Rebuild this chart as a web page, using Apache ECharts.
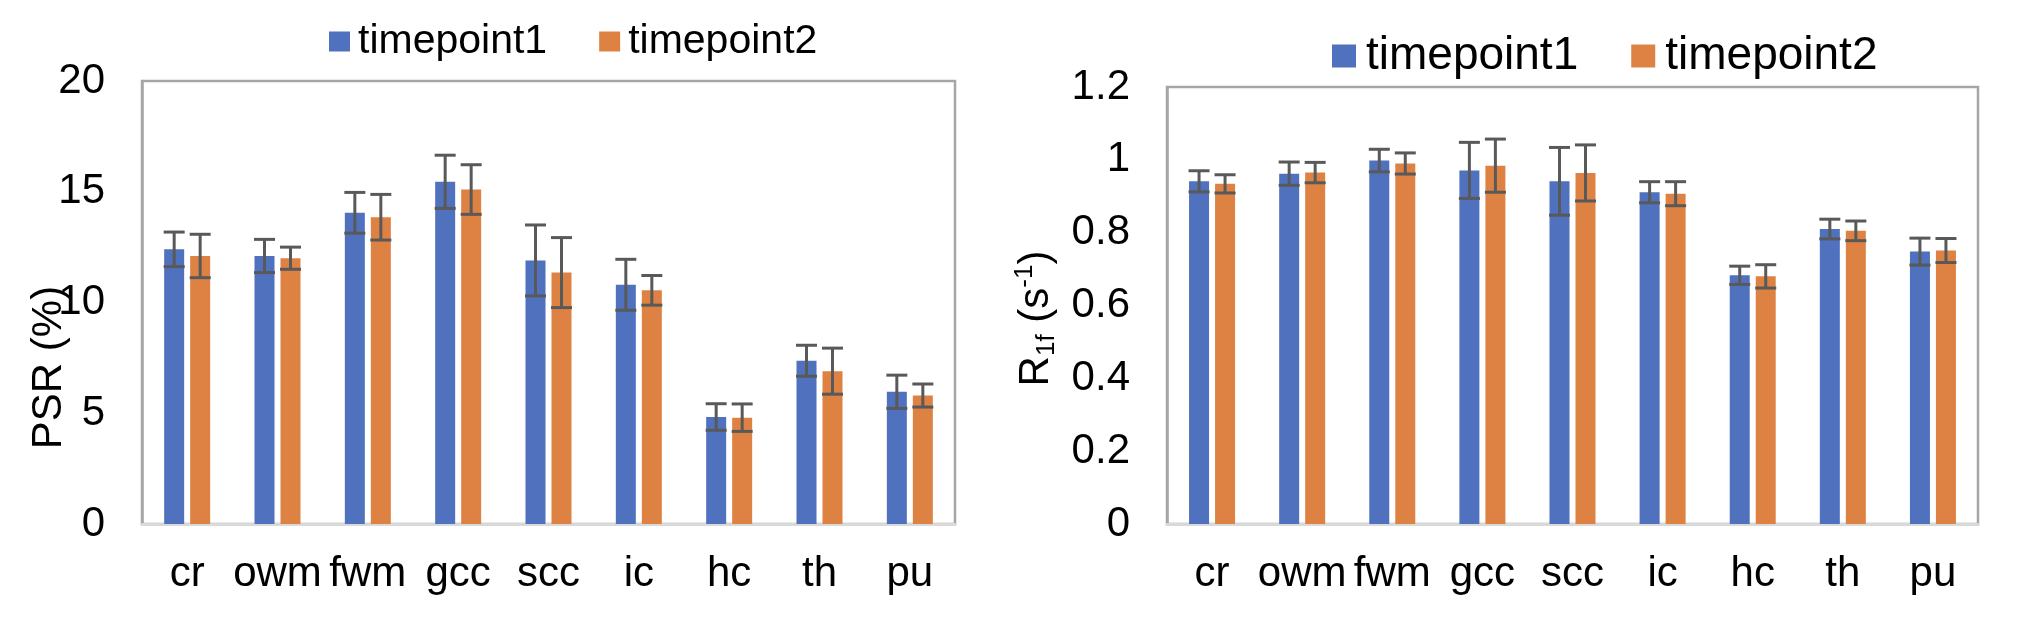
<!DOCTYPE html>
<html>
<head>
<meta charset="utf-8">
<script src="https://cdn.jsdelivr.net/npm/echarts@6/dist/echarts.min.js"></script>
<style>
html,body{margin:0;padding:0;background:#fff;}
#chart{width:2018px;height:620px;}
</style>
</head>
<body>
<div id="chart"></div>
<script>
// ---- data ----
const categories = ['cr', 'owm', 'fwm', 'gcc', 'scc', 'ic', 'hc', 'th', 'pu'];
const seriesNames = ['timepoint1', 'timepoint2'];

const psrT1    = [12.4, 12.1, 14.05, 15.45, 11.9, 10.8, 4.83, 7.37, 5.97];
const psrT1Err = [0.78, 0.75, 0.92, 1.2, 1.6, 1.15, 0.6, 0.7, 0.75];
const psrT2    = [12.1, 12.0, 13.85, 15.1, 11.35, 10.55, 4.8, 6.9, 5.8];
const psrT2Err = [0.98, 0.5, 1.03, 1.12, 1.58, 0.67, 0.62, 1.04, 0.52];

const r1fT1    = [0.941, 0.962, 0.998, 0.971, 0.941, 0.911, 0.683, 0.810, 0.748];
const r1fT1Err = [0.029, 0.032, 0.031, 0.077, 0.093, 0.029, 0.025, 0.027, 0.037];
const r1fT2    = [0.934, 0.965, 0.990, 0.984, 0.964, 0.907, 0.680, 0.805, 0.751];
const r1fT2Err = [0.025, 0.028, 0.029, 0.073, 0.077, 0.033, 0.032, 0.027, 0.033];

const psrTicks = [0, 5, 10, 15, 20];
const r1fTicks = [0, 0.2, 0.4, 0.6, 0.8, 1.0, 1.2];

// ---- style ----
const FONT = "'Liberation Sans', Arial, sans-serif";
const BLUE = '#4F71BE';
const ORANGE = '#DE8244';
const ERR = '#595959';
const BAR_W = 20;
const BAR_GAP_PX = 6;
const OFFSET = (BAR_W + BAR_GAP_PX) / 2;

function errSeries(axisIdx, vals, errs, shift) {
  return {
    type: 'custom',
    xAxisIndex: axisIdx,
    yAxisIndex: axisIdx,
    z: 10,
    silent: true,
    data: vals.map((v, i) => [i, v, errs[i]]),
    renderItem: function (params, api) {
      const i = api.value(0), v = api.value(1), e = api.value(2);
      const top = api.coord([i, v + e]);
      const bot = api.coord([i, v - e]);
      const x = top[0] + shift;
      const half = BAR_W / 2 + 0.5;
      const st = { stroke: ERR, lineWidth: 3 };
      return {
        type: 'group',
        children: [
          { type: 'line', shape: { x1: x, y1: top[1], x2: x, y2: bot[1] }, style: st },
          { type: 'line', shape: { x1: x - half, y1: top[1], x2: x + half, y2: top[1] }, style: st },
          { type: 'line', shape: { x1: x - half, y1: bot[1], x2: x + half, y2: bot[1] }, style: st }
        ]
      };
    }
  };
}

function barSeries(name, axisIdx, vals, color) {
  return {
    name: name,
    type: 'bar',
    xAxisIndex: axisIdx,
    yAxisIndex: axisIdx,
    barWidth: BAR_W,
    barGap: (BAR_GAP_PX / BAR_W * 100) + '%',
    itemStyle: { color: color },
    data: vals
  };
}

function xAxis(gridIdx) {
  return {
    type: 'category',
    gridIndex: gridIdx,
    data: categories,
    axisTick: { show: false },
    axisLine: { show: true, lineStyle: { color: '#D9D9D9', width: 3 } },
    axisLabel: { interval: 0, fontSize: 42, fontFamily: FONT, color: '#000', margin: 29 }
  };
}

const chart = echarts.init(document.getElementById('chart'), null, { renderer: 'canvas' });

chart.setOption({
  animation: false,
  backgroundColor: '#fff',
  legend: [
    {
      data: seriesNames,
      left: 329, top: 21, padding: 0,
      icon: 'rect', itemWidth: 21, itemHeight: 20, itemGap: 52,
      textStyle: { fontSize: 41, fontFamily: FONT, color: '#000', padding: [0, 0, 0, 3] }
    },
    {
      data: seriesNames,
      left: 1332, top: 33, padding: 0,
      icon: 'rect', itemWidth: 24, itemHeight: 23, itemGap: 53,
      textStyle: { fontSize: 46, fontFamily: FONT, color: '#000', padding: [0, 0, 0, 5] }
    }
  ],
  grid: [
    { left: 142, top: 81, right: 1063, bottom: 96, show: true, borderColor: '#A6A6A6', borderWidth: 2.5, containLabel: false },
    { left: 1167, top: 87, right: 40, bottom: 96, show: true, borderColor: '#A6A6A6', borderWidth: 2.5, containLabel: false }
  ],
  xAxis: [xAxis(0), xAxis(1)],
  yAxis: [
    {
      type: 'value', gridIndex: 0,
      min: psrTicks[0], max: psrTicks[psrTicks.length - 1], interval: psrTicks[1] - psrTicks[0],
      splitLine: { show: false }, axisTick: { show: false },
      axisLine: { show: true, lineStyle: { color: '#A6A6A6', width: 2.5 } },
      axisLabel: { fontSize: 42, fontFamily: FONT, color: '#000', margin: 37 },
      name: 'PSR (%)', nameLocation: 'middle', nameRotate: 90, nameGap: 72,
      nameMoveOverlap: false,
      nameTextStyle: { fontSize: 42, fontFamily: FONT, color: '#000', padding: [0, 130, 0, 0] }
    },
    {
      type: 'value', gridIndex: 1,
      min: r1fTicks[0], max: r1fTicks[r1fTicks.length - 1], interval: 0.2,
      splitLine: { show: false }, axisTick: { show: false },
      axisLine: { show: true, lineStyle: { color: '#A6A6A6', width: 2.5 } },
      axisLabel: { fontSize: 42, fontFamily: FONT, color: '#000', margin: 37,
        formatter: v => String(+v.toFixed(1)) },
      name: '{r|R}{sub|1f}{r| (s}{sup|-1}{r|)}', nameLocation: 'middle', nameRotate: 90, nameGap: 107,
      nameMoveOverlap: false,
      nameTextStyle: {
        fontSize: 42, fontFamily: FONT, color: '#000', padding: [0, 26, 0, 0],
        rich: {
          r: { fontSize: 42, fontFamily: FONT, color: '#000', lineHeight: 48 },
          sub: { fontSize: 26, fontFamily: FONT, color: '#000', lineHeight: 20, verticalAlign: 'bottom' },
          sup: { fontSize: 26, fontFamily: FONT, color: '#000', lineHeight: 26, verticalAlign: 'top' }
        }
      }
    }
  ],
  series: [
    barSeries(seriesNames[0], 0, psrT1, BLUE),
    barSeries(seriesNames[1], 0, psrT2, ORANGE),
    barSeries(seriesNames[0], 1, r1fT1, BLUE),
    barSeries(seriesNames[1], 1, r1fT2, ORANGE),
    errSeries(0, psrT1, psrT1Err, -OFFSET),
    errSeries(0, psrT2, psrT2Err, OFFSET),
    errSeries(1, r1fT1, r1fT1Err, -OFFSET),
    errSeries(1, r1fT2, r1fT2Err, OFFSET)
  ]
});
</script>
</body>
</html>
